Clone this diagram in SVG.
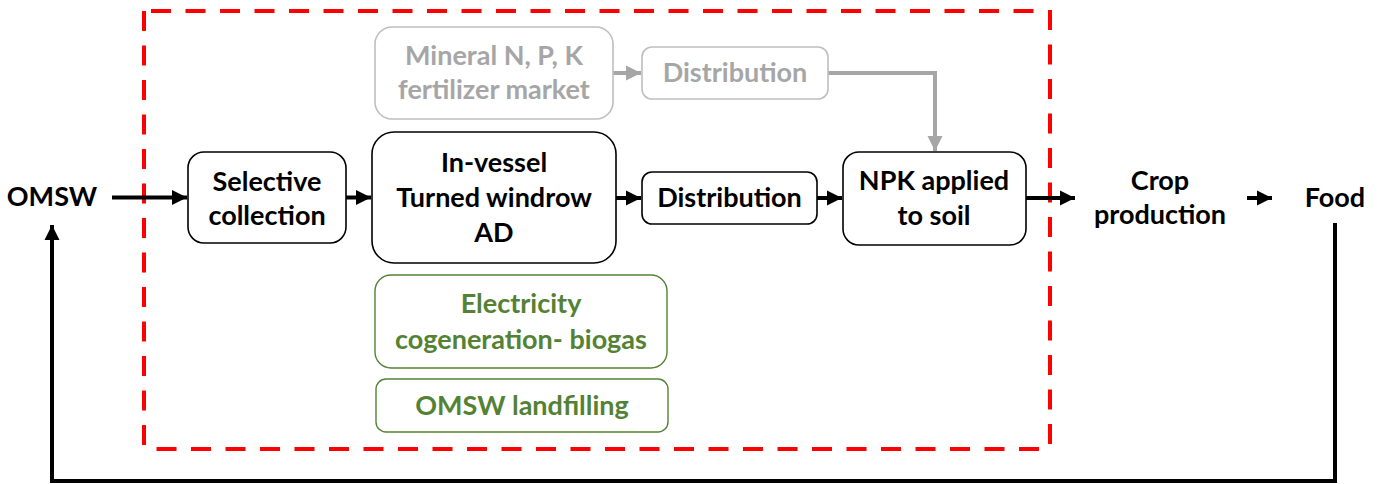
<svg xmlns="http://www.w3.org/2000/svg" width="1378" height="484" viewBox="0 0 1378 484">
<defs>
<style>
text{font-family:Lato,"Open Sans","Liberation Sans",sans-serif;font-weight:bold;font-size:27px;text-anchor:middle}
.k{fill:#000}
.g{fill:#A6A6A6}
.gr{fill:#548235}
.bb{fill:#fff;stroke:#000;stroke-width:1.6}
.gb{fill:#fff;stroke:#BFBFBF;stroke-width:1.6}
.grb{fill:#fff;stroke:#548235;stroke-width:1.4}
.red{fill:none;stroke:#FF0000;stroke-width:4;stroke-dasharray:20 14.5}
.ak{fill:none;stroke:#000;stroke-width:4}
.ag{fill:none;stroke:#A6A6A6;stroke-width:4}
</style>
<marker id="hk" markerUnits="userSpaceOnUse" markerWidth="17" markerHeight="17" viewBox="0 0 17 17" refX="16" refY="8.5" orient="auto"><path d="M1,1 L16,8.5 L1,16 Z" fill="#000"/></marker>
<marker id="hg" markerUnits="userSpaceOnUse" markerWidth="17" markerHeight="17" viewBox="0 0 17 17" refX="16" refY="8.5" orient="auto"><path d="M1,1 L16,8.5 L1,16 Z" fill="#A6A6A6"/></marker>
</defs>
<rect width="1378" height="484" fill="#fff"/>
<g id="boundary">
<path class="red" d="M151,11 H1040"/>
<path class="red" d="M1050,10 V445"/>
<path class="red" d="M1039,449 H150"/>
<path class="red" d="M144,445 V11"/>
</g>
<g id="connectors">
<path class="ak" d="M112,197.5 H187" marker-end="url(#hk)"/>
<path class="ak" d="M346,197.5 H371" marker-end="url(#hk)"/>
<path class="ak" d="M616,198 H641" marker-end="url(#hk)"/>
<path class="ak" d="M817,198 H842" marker-end="url(#hk)"/>
<path class="ak" d="M1026,198 H1075" marker-end="url(#hk)"/>
<path class="ak" d="M1247,198 H1272" marker-end="url(#hk)"/>
<path class="ak" d="M1335,223 V481 H52 V225" marker-end="url(#hk)"/>
<path class="ag" d="M613,73 H641" marker-end="url(#hg)"/>
<path class="ag" d="M828,73 H935 V151" marker-end="url(#hg)"/>
</g>
<g id="omsw"><text class="k" x="52" y="206">OMSW</text></g>
<g id="selective">
<rect class="bb" x="188" y="152" width="158" height="91" rx="16"/>
<text class="k" x="267" y="191">Selective</text>
<text class="k" x="267" y="225">collection</text>
</g>
<g id="treatment">
<rect class="bb" x="372" y="132" width="244" height="131" rx="22"/>
<text class="k" x="494" y="172">In-vessel</text>
<text class="k" x="494" y="207">Turned windrow</text>
<text class="k" x="494" y="242">AD</text>
</g>
<g id="distribution">
<rect class="bb" x="642" y="172" width="175" height="52" rx="10"/>
<text class="k" x="729.5" y="207">Distribution</text>
</g>
<g id="npk">
<rect class="bb" x="843" y="152" width="183" height="93" rx="16"/>
<text class="k" x="934" y="190">NPK applied</text>
<text class="k" x="934" y="225">to soil</text>
</g>
<g id="crop">
<text class="k" x="1160" y="190">Crop</text>
<text class="k" x="1160" y="224">production</text>
</g>
<g id="food"><text class="k" x="1335" y="207">Food</text></g>
<g id="mineral">
<rect class="gb" x="375" y="27" width="238" height="92" rx="17"/>
<text class="g" x="494" y="65">Mineral N, P, K</text>
<text class="g" x="494" y="99">fertilizer market</text>
</g>
<g id="distribution-mineral">
<rect class="gb" x="642" y="47" width="186" height="52" rx="10"/>
<text class="g" x="735" y="82">Distribution</text>
</g>
<g id="electricity">
<rect class="grb" x="375" y="275" width="292" height="93" rx="16"/>
<text class="gr" x="521" y="313">Electricity</text>
<text class="gr" x="521" y="349">cogeneration- biogas</text>
</g>
<g id="landfilling">
<rect class="grb" x="376" y="379" width="292" height="53" rx="10"/>
<text class="gr" x="522" y="415">OMSW landfilling</text>
</g>
</svg>
